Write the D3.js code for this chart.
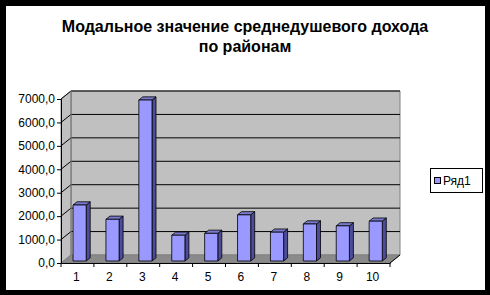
<!DOCTYPE html>
<html>
<head>
<meta charset="utf-8">
<script src="https://cdn.jsdelivr.net/npm/d3@7"></script>
<style>
  body { margin: 0; background: #000; }
  svg { display: block; }
</style>
</head>
<body>
<script>
var w = 490;
var h = 295;

// data
var categories = ["1", "2", "3", "4", "5", "6", "7", "8", "9", "10"];
var values = [2390, 1780, 6870, 1100, 1180, 1970, 1230, 1580, 1500, 1700];
var yTicks = [0, 1000, 2000, 3000, 4000, 5000, 6000, 7000];
var seriesName = "Ряд1";
var titleLines = ["Модальное значение среднедушевого дохода", "по районам"];

// 3d depth of the walls
var depthX = 10;
var depthY = -8;

var x = d3.scaleBand()
    .domain(categories)
    .range([61, 390]);

var y = d3.scaleLinear()
    .domain([0, 7000])
    .range([263, 99]);

// project a point (px on front plane, value, depth 0..1)
function pt(px, v, d) {
    return [px + depthX * d, y(v) + depthY * d];
}
function poly(points) {
    return points.map(function (p) { return p.join(","); }).join(" ");
}

var svg = d3.select("body")
    .append("svg")
    .attr("width", w)
    .attr("height", h);

// frame
svg.append("rect").attr("width", w).attr("height", h).attr("fill", "#000");
svg.append("rect")
    .attr("x", 6).attr("y", 6)
    .attr("width", 479).attr("height", 284)
    .attr("fill", "#fff");

// title
svg.append("text")
    .attr("x", 245)
    .attr("y", 32)
    .attr("text-anchor", "middle")
    .style("font-family", "'Liberation Sans', Arial, sans-serif")
    .style("font-weight", "bold")
    .style("font-size", "16px")
    .selectAll("tspan")
    .data(titleLines)
    .enter()
    .append("tspan")
    .attr("x", 245)
    .attr("dy", function (d, i) { return i === 0 ? 0 : 20; })
    .text(function (d) { return d; });

var x0 = x.range()[0];
var x1 = x.range()[1];

// back wall
svg.append("polygon")
    .attr("points", poly([pt(x0, 0, 1), pt(x1, 0, 1), pt(x1, 7000, 1), pt(x0, 7000, 1)]))
    .attr("fill", "#c0c0c0")
    .attr("stroke", "#808080");

// left side wall
svg.append("polygon")
    .attr("points", poly([pt(x0, 0, 0), pt(x0, 0, 1), pt(x0, 7000, 1), pt(x0, 7000, 0)]))
    .attr("fill", "#c0c0c0")
    .attr("stroke", "#808080");

// floor
svg.append("polygon")
    .attr("points", poly([pt(x0, 0, 0), pt(x1, 0, 0), pt(x1, 0, 1), pt(x0, 0, 1)]))
    .attr("fill", "#8a8a8a")
    .attr("stroke", "#808080");

// gridlines on back wall and side wall
svg.selectAll("polyline.grid")
    .data(yTicks.filter(function (t) { return t > 0; }))
    .enter()
    .append("polyline")
    .attr("class", "grid")
    .attr("points", function (t) { return poly([pt(x0, t, 0), pt(x0, t, 1), pt(x1, t, 1)]); })
    .attr("fill", "none")
    .attr("stroke", "#000")
    .attr("stroke-width", 1);

// back wall left corner line
svg.append("line")
    .attr("x1", pt(x0, 0, 1)[0]).attr("y1", pt(x0, 0, 1)[1])
    .attr("x2", pt(x0, 7000, 1)[0]).attr("y2", pt(x0, 7000, 1)[1])
    .attr("stroke", "#808080");

// floor right edge
svg.append("line")
    .attr("x1", pt(x1, 0, 0)[0]).attr("y1", pt(x1, 0, 0)[1])
    .attr("x2", pt(x1, 0, 1)[0]).attr("y2", pt(x1, 0, 1)[1])
    .attr("stroke", "#000");

// bars
var bw = x.bandwidth();
var bStart = 0.29, bWidth = 0.40;
var dFront = 0.25, dBack = 0.65;

var bars = svg.selectAll("g.bar")
    .data(values)
    .enter()
    .append("g")
    .attr("class", "bar");

bars.append("polygon") // side
    .attr("points", function (v, i) {
        var r = x(categories[i]) + bw * (bStart + bWidth);
        return poly([pt(r, 0, dFront), pt(r, 0, dBack), pt(r, v, dBack), pt(r, v, dFront)]);
    })
    .attr("fill", "#4c4c99")
    .attr("stroke", "#000")
    .attr("stroke-width", 0.8)
    .attr("stroke-linejoin", "round");

bars.append("polygon") // top
    .attr("points", function (v, i) {
        var l = x(categories[i]) + bw * bStart;
        var r = l + bw * bWidth;
        return poly([pt(l, v, dFront), pt(r, v, dFront), pt(r, v, dBack), pt(l, v, dBack)]);
    })
    .attr("fill", "#7a7acc")
    .attr("stroke", "#000")
    .attr("stroke-width", 0.8)
    .attr("stroke-linejoin", "round");

bars.append("polygon") // front
    .attr("points", function (v, i) {
        var l = x(categories[i]) + bw * bStart;
        var r = l + bw * bWidth;
        return poly([pt(l, 0, dFront), pt(r, 0, dFront), pt(r, v, dFront), pt(l, v, dFront)]);
    })
    .attr("fill", "#9999ff")
    .attr("stroke", "#000")
    .attr("stroke-width", 0.8)
    .attr("stroke-linejoin", "round");

// y axis
var fmt = function (d) { return d3.format(".1f")(d).replace(".", ","); };
svg.append("g")
    .attr("transform", "translate(" + x0 + ",0)")
    .call(d3.axisLeft(y).tickValues(yTicks).tickSize(4).tickPadding(2).tickFormat(fmt))
    .call(function (g) {
        g.select(".domain").attr("stroke", "#000");
        g.selectAll("text")
            .style("font-family", "'Liberation Sans', Arial, sans-serif")
            .style("font-size", "12px")
            .attr("fill", "#000");
    });

// x axis
svg.append("g")
    .attr("transform", "translate(0," + y(0) + ")")
    .call(d3.axisBottom(x).tickSize(0).tickPadding(9))
    .call(function (g) {
        g.select(".domain").attr("stroke", "#000");
        g.selectAll("text")
            .attr("dx", -1)
            .style("font-family", "'Liberation Sans', Arial, sans-serif")
            .style("font-size", "12px")
            .attr("fill", "#000");
    });

// x tick marks on category borders
svg.selectAll("line.xtick")
    .data(categories.concat(["end"]))
    .enter()
    .append("line")
    .attr("class", "xtick")
    .attr("x1", function (d, i) { return x0 + i * x.step(); })
    .attr("x2", function (d, i) { return x0 + i * x.step(); })
    .attr("y1", y(0))
    .attr("y2", y(0) + 4)
    .attr("stroke", "#000");

// legend
var legend = svg.append("g");
legend.append("rect")
    .attr("x", 430.5).attr("y", 168.5)
    .attr("width", 52).attr("height", 24)
    .attr("fill", "#fff")
    .attr("stroke", "#000");
legend.append("rect")
    .attr("x", 434.5).attr("y", 177.5)
    .attr("width", 6).attr("height", 6)
    .attr("fill", "#9999ff")
    .attr("stroke", "#000");
legend.append("text")
    .attr("x", 443)
    .attr("y", 185)
    .style("font-family", "'Liberation Sans', Arial, sans-serif")
    .style("font-size", "12px")
    .text(seriesName);
</script>
</body>
</html>
